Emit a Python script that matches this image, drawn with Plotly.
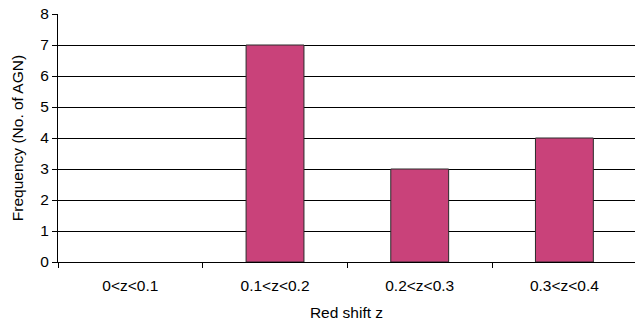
import plotly.graph_objects as go

categories = ["0<z<0.1", "0.1<z<0.2", "0.2<z<0.3", "0.3<z<0.4"]
counts = [0, 7, 3, 4]
y_ticks = [0, 1, 2, 3, 4, 5, 6, 7, 8]

# no outline on empty bins so they leave no stub on the baseline
outline_widths = [0 if c == 0 else 1 for c in counts]

fig = go.Figure(
    go.Bar(
        x=categories,
        y=counts,
        width=0.4,
        marker=dict(color="#C9427A", line=dict(color="#2a2a2a", width=outline_widths)),
    )
)

font = dict(family="Liberation Sans, Arial, sans-serif", size=15.5, color="#000")

fig.update_layout(
    width=635,
    height=325,
    margin=dict(l=58, r=0, t=14, b=63),
    paper_bgcolor="white",
    plot_bgcolor="white",
    font=font,
    showlegend=False,
    xaxis=dict(
        type="category",
        range=[-0.5, 3.488],
        showgrid=False,
        showline=True,
        linecolor="#000",
        linewidth=1,
        ticks="outside",
        tickson="boundaries",
        ticklen=5,
        tickcolor="#000",
        tickfont=font,
        ticklabelstandoff=9,
        title=dict(text="Red shift z", font=font, standoff=14),
    ),
    yaxis=dict(
        range=[0, 8],
        tickvals=y_ticks,
        showgrid=True,
        gridcolor="#000",
        gridwidth=1,
        showline=True,
        linecolor="#000",
        linewidth=1,
        ticks="outside",
        ticklen=5,
        tickcolor="#000",
        tickfont=font,
        zeroline=False,
        title=dict(text="Frequency (No. of AGN)", font=font, standoff=12),
    ),
)

fig.write_html("out.html")
